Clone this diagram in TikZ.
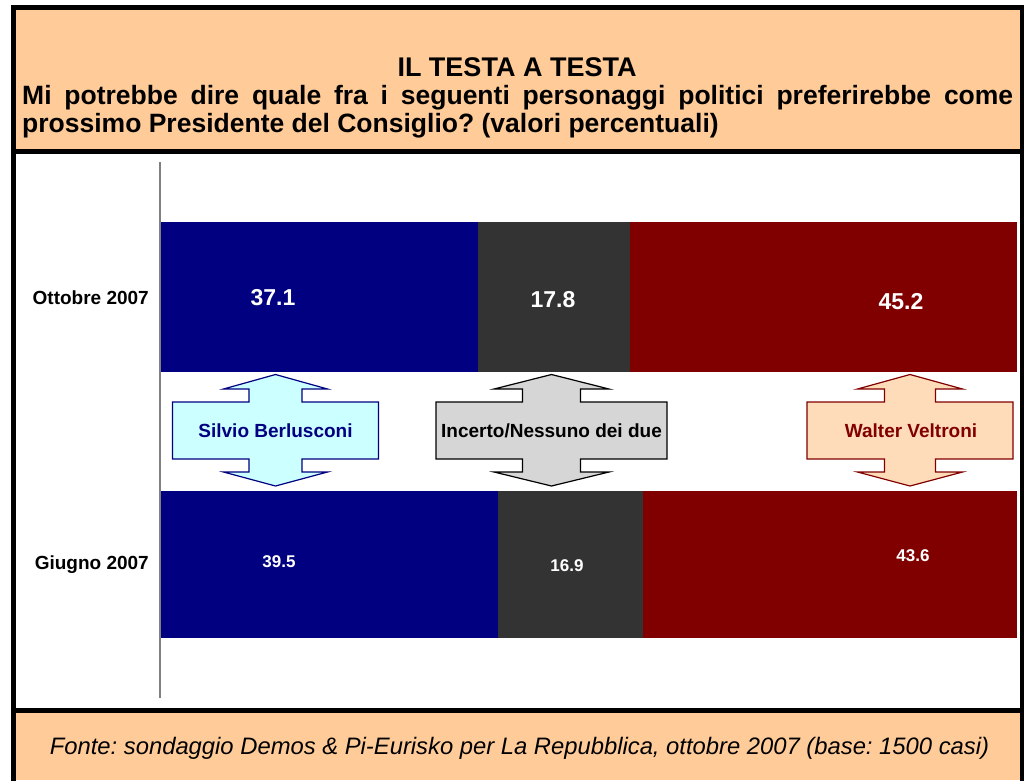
\documentclass[tikz,border=0pt]{standalone}
\usepackage{fontspec}
\setmainfont{Liberation Sans}
\frenchspacing
\definecolor{hdr}{HTML}{FFCC99}
\definecolor{navyb}{HTML}{000080}
\definecolor{dgray}{HTML}{333333}
\definecolor{maroonb}{HTML}{800000}
\definecolor{lcyan}{HTML}{CCFFFF}
\definecolor{lgrayb}{HTML}{D6D6D6}
\definecolor{peach}{HTML}{FFDCB9}
\definecolor{axisgray}{HTML}{808080}
\newcommand{\udarrow}[5]{%
 \draw[#5] (#1,374.5) -- (#1+#4,389) -- (#1+#3,389) -- (#1+#3,402) -- (#1+#2,402) -- (#1+#2,459) -- (#1+#3,459) -- (#1+#3,472) -- (#1+#4,472) -- (#1,486) -- (#1-#4,472) -- (#1-#3,472) -- (#1-#3,459) -- (#1-#2,459) -- (#1-#2,402) -- (#1-#3,402) -- (#1-#3,389) -- (#1-#4,389) -- cycle;}
\begin{document}
\begin{tikzpicture}[x=1pt,y=-1pt,
  cat/.style={font=\bfseries\fontsize{19}{22}\selectfont, anchor=east, inner sep=0},
  valbig/.style={font=\bfseries\fontsize{23}{26}\selectfont, text=white, inner sep=0},
  valsmall/.style={font=\bfseries\fontsize{17}{20}\selectfont, text=white, inner sep=0},
  arrowlbl/.style={font=\bfseries\fontsize{19}{22}\selectfont, inner sep=0},
  outline/.style={line width=1.2pt, line join=miter},
  frame/.style={line width=5pt}]
\useasboundingbox (0,0) rectangle (1024,780);
% panels
\fill[hdr] (16,10) rectangle (1020,149);
\fill[white] (16,154) rectangle (1020,708);
\fill[hdr] (16,713) rectangle (1020,780);
% bars
\fill[navyb] (160,222) rectangle (477.6,371.5);
\fill[dgray] (477.6,222) rectangle (630,371.5);
\fill[maroonb] (630,222) rectangle (1017,371.5);
\fill[navyb] (160,491) rectangle (498.1,638);
\fill[dgray] (498.1,491) rectangle (642.8,638);
\fill[maroonb] (642.8,491) rectangle (1017,638);
% axis
\draw[axisgray, line width=2pt] (160,162) -- (160,698);
% frame
\draw[frame] (13.5,7.5) rectangle (1022,790);
\draw[frame] (16,151.5) -- (1020,151.5);
\draw[frame] (16,710.5) -- (1020,710.5);
% header
\node[anchor=base, inner sep=0, font=\bfseries\fontsize{27}{28}\selectfont] (title) at (517,76) {IL TESTA A TESTA};
\node[anchor=base west, inner sep=0, font=\bfseries\fontsize{26.5}{28.5}\selectfont] (question) at (22,104)
  {\parbox[t]{991pt}{Mi potrebbe dire quale fra i seguenti personaggi politici preferirebbe come\linebreak prossimo Presidente del Consiglio? (valori percentuali)}};
% categories
\node[cat] (ott) at (149,298) {Ottobre 2007};
\node[cat] (giu) at (149,565) {Giugno 2007};
% values
\node[valbig] (v1) at (273,298) {37.1};
\node[valbig] (v2) at (553,300) {17.8};
\node[valbig] (v3) at (901,302) {45.2};
\node[valsmall] (w1) at (279,562) {39.5};
\node[valsmall] (w2) at (567,566) {16.9};
\node[valsmall] (w3) at (913,556) {43.6};
% arrows
\udarrow{275.5}{103}{26.5}{52}{outline, draw=navyb, fill=lcyan}
\udarrow{551.5}{115.5}{29}{57.5}{outline, draw=black, fill=lgrayb}
\udarrow{910}{103}{25.5}{52.5}{outline, draw=maroonb, fill=peach}
\node[arrowlbl, text=navyb] (berl) at (275.5,431) {Silvio Berlusconi};
\node[arrowlbl, text=black] (inc) at (551.5,431) {Incerto/Nessuno dei due};
\node[arrowlbl, text=maroonb] (velt) at (911,431) {Walter Veltroni};
% footer
\node[anchor=base, inner sep=0, font=\itshape\fontsize{23.8}{26}\selectfont] (fonte) at (519.5,754) {Fonte: sondaggio Demos \& Pi-Eurisko per La Repubblica, ottobre 2007 (base: 1500 casi)};
\end{tikzpicture}
\end{document}
